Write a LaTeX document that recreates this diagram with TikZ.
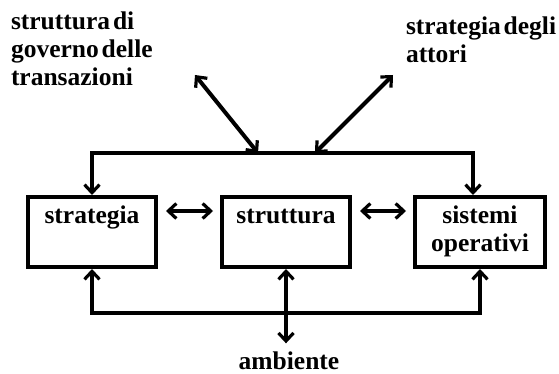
\documentclass[tikz,border=0pt]{standalone}
\usepackage{fontspec}
\setmainfont{Liberation Serif}[WordSpace=0.45]
\usetikzlibrary{arrows.meta,calc}

\begin{document}
\begin{tikzpicture}[x=1pt,y=1pt,yscale=-1,xscale=1,
  line width=4pt,
  >={Straight Barb[length=8pt,width=15pt,line width=3.2pt]},
  every node/.style={font=\fontsize{25.5}{28}\selectfont\bfseries},
  blockbox/.style={draw,line width=4pt,minimum width=128pt,minimum height=70pt,align=center,inner sep=0pt},
  lbl/.style={align=left,inner sep=0pt,anchor=north west}]
\useasboundingbox (0,0) rectangle (559,374);

%Blocks
\node [blockbox] (strat) at (92,232) {\strut strategia\\\strut};
\node [blockbox] (struct) at (286,232) {\strut struttura\\\strut};
\node [blockbox,minimum width=130pt] (sist) at (480,232) {\strut sistemi\\operativi\strut};

% Text Node
\node [lbl] (gov) at (9,7.5) {\strut struttura di\\governo delle\\transazioni};
% Text Node
\node [lbl] (att) at (404,12.5) {\strut strategia degli\\attori};
% Text Node
\node [anchor=base,inner sep=0pt] (amb) at (289,369) {ambiente};

%Junctions on the top line
\coordinate (tj) at (258,153);
\coordinate (tk) at (315,153);
\coordinate (tr) at (473,153);
\coordinate (gv) at (195,75);
\coordinate (at) at (393,75);
\coordinate (bb) at (92,313);

%Top line
\draw [<->] (strat.north) |- (tr) -- (tr |- sist.north);
%Diagonals
\draw [<->] (tj) -- (gv);
\draw [<->] (tk) -- (at);

%Between the blocks
\draw [<->,shorten <=8pt,shorten >=7pt] ($(strat.east)+(0,-21)$) -- ($(struct.west)+(0,-21)$);
\draw [<->,shorten <=8pt,shorten >=7pt] ($(struct.east)+(0,-21)$) -- ($(sist.west)+(0,-21)$);

%Bottom line
\draw [<->] (strat.south) |- (bb -| sist.south) -- (sist.south);
\draw [<->,shorten >=6pt] (struct.south) -- (struct.south |- amb.north);

\end{tikzpicture}
\end{document}
